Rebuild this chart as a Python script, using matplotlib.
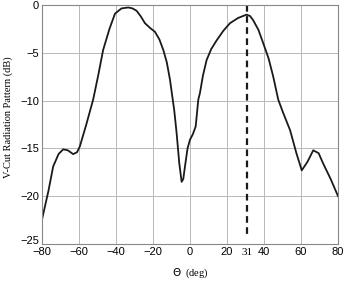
import matplotlib.pyplot as plt
import matplotlib.transforms as mtransforms

# pattern
theta = [-80, -76.5, -73.9, -71, -68.5, -66, -63.1, -61, -59.5, -56, -52.3, -49.5,
         -46.9, -43.5, -40.5, -37, -33.3, -31, -28.8, -26.5, -24.3, -21.5, -18.9, -16.5,
         -14.4, -12.5, -10.8, -8.5, -7.2, -5.8, -4.5, -3.6, -2.7, -1.3, 0, 1.6, 3.1,
         4.5, 5.4, 7, 9.0, 11.5, 14.4, 18, 21.6, 26, 30.6, 32.5, 34.2, 37, 39.6, 42.5,
         45, 47.7, 50.4, 54.1, 57.5, 60.4, 63.5, 66.6, 69.5, 72, 76, 80]
gain = [-22.5, -19.5, -16.9, -15.6, -15.1, -15.2, -15.6, -15.4, -14.8, -12.5, -9.9, -7.3,
        -4.7, -2.5, -0.9, -0.35, -0.25, -0.35, -0.6, -1.2, -1.9, -2.4, -2.8, -3.6,
        -4.7, -6.0, -7.8, -11.0, -13.4, -16.5, -18.5, -18.2, -16.9, -15.0, -14.1, -13.5, -12.7,
        -9.9, -9.2, -7.4, -5.75, -4.6, -3.7, -2.7, -1.9, -1.35, -1.0, -1.15, -1.6, -2.6, -4.0, -5.6,
        -7.5, -9.9, -11.3, -13.1, -15.5, -17.3, -16.4, -15.2, -15.5, -16.6, -18.2, -20.0]

xticks = [-80, -60, -40, -20, 0, 20, 40, 60, 80]
yticks = [0, -5, -10, -15, -20, -25]
theta_mark = 31
mark_top, mark_bottom = 0, -24

fig = plt.figure(figsize=(3.46, 2.82), dpi=100)
ax = fig.add_axes([0.121, 0.135, 0.856, 0.847])

ax.plot(theta, gain, color='#1a1a1a', lw=1.3)
ax.plot([theta_mark, theta_mark], [mark_top, mark_bottom], color='#1a1a1a', lw=1.6,
        ls=(0, (3, 2)))

ax.set_xlim(-80, 80)
ax.set_ylim(-25, 0)
ax.set_xticks(xticks)
ax.set_yticks(yticks)
ax.grid(True, color='#b8b8b8', lw=0.7)
ax.tick_params(length=0, labelsize=8, pad=2)
for lab in ax.get_xticklabels() + ax.get_yticklabels():
    lab.set_family('Liberation Sans')
for s in ax.spines.values():
    s.set_color('#888888')
    s.set_linewidth(0.8)

# nudge the -25 label up a little so it clears -80, as in the scan
lab25 = ax.get_yticklabels()[-1]
lab25.set_transform(lab25.get_transform() +
                    mtransforms.ScaledTranslation(0, 2.5 / 72, fig.dpi_scale_trans))

ax.text(theta_mark, -25.4, '31', ha='center', va='top', fontsize=8,
        family='Liberation Serif')

ax.set_ylabel('V-Cut Radiation Pattern (dB)', family='Liberation Serif', fontsize=7.5)
ax.yaxis.set_label_coords(-0.098, 0.53)
ax.set_xlabel(r'$\Theta$  (deg)', family='Liberation Serif', fontsize=7.5, labelpad=7)

fig.savefig('out.png', dpi=100)
